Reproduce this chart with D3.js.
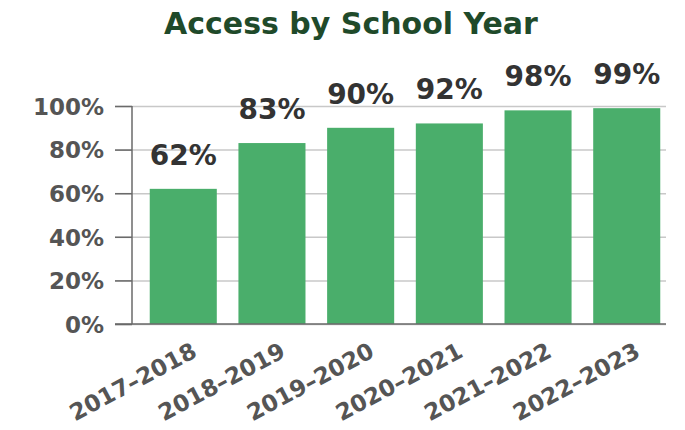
<!DOCTYPE html>
<html>
<head>
<meta charset="utf-8">
<script src="https://cdn.jsdelivr.net/npm/d3@7"></script>
<style>
  html, body { margin: 0; padding: 0; background: #fff; }
  svg text { font-family: "DejaVu Sans", sans-serif; font-weight: bold; }
</style>
</head>
<body>
<svg id="chart" width="685" height="430"></svg>
<script>
// School years and the share with access in each
const years = ["2017–2018", "2018–2019", "2019–2020", "2020–2021", "2021–2022", "2022–2023"];
const access = [62, 83, 90, 92, 98, 99];
const yTicks = [0, 20, 40, 60, 80, 100];
const title = "Access by School Year";

const svg = d3.select("#chart");

const x = d3.scaleBand()
  .domain(years)
  .range([132, 678])
  .paddingInner(0.244)
  .paddingOuter(0.2);

const y = d3.scaleLinear()
  .domain([0, 100])
  .range([324, 106]);

// Title
svg.append("text")
  .attr("x", 351)
  .attr("y", 34)
  .attr("text-anchor", "middle")
  .attr("fill", "#1f4a2a")
  .attr("font-size", 30)
  .text(title);

// Horizontal gridlines with short ticks out to the left
const grid = svg.append("g")
  .attr("transform", "translate(132,0)")
  .call(d3.axisLeft(y)
    .tickValues(yTicks)
    .tickSize(-534)
    .tickFormat(""));
grid.select(".domain").remove();
grid.selectAll(".tick line")
  .attr("stroke", "#c8c8c8")
  .attr("stroke-width", 1.5)
  .attr("x1", -17);

// Bars
svg.append("g")
  .selectAll("rect")
  .data(years)
  .join("rect")
  .attr("x", d => x(d))
  .attr("width", x.bandwidth())
  .attr("y", (d, i) => y(access[i]))
  .attr("height", (d, i) => y(0) - y(access[i]))
  .attr("fill", "#4aae6b");

// Value labels
svg.append("g")
  .selectAll("text")
  .data(years)
  .join("text")
  .attr("x", d => x(d) + x.bandwidth() / 2)
  .attr("y", (d, i) => y(access[i]) - 24)
  .attr("text-anchor", "middle")
  .attr("fill", "#333333")
  .attr("font-size", 28)
  .text((d, i) => access[i] + "%");

// Y axis
const yAxis = svg.append("g")
  .attr("transform", "translate(132,0)")
  .call(d3.axisLeft(y)
    .tickValues(yTicks)
    .tickSize(17)
    .tickPadding(11)
    .tickFormat(d => d + "%"));
yAxis.select(".domain")
  .attr("stroke", "#6a6a6a")
  .attr("stroke-width", 1.5)
  .attr("d", `M0,${y(100)}V${y(0)}`);
yAxis.selectAll(".tick line")
  .attr("stroke", "#6a6a6a")
  .attr("stroke-width", 1.5);
yAxis.selectAll(".tick text")
  .attr("fill", "#555555")
  .attr("font-size", 23)
  .attr("font-family", "DejaVu Sans, sans-serif")
  .attr("dy", "0.36em");

// Baseline
svg.append("line")
  .attr("x1", 115).attr("x2", 666)
  .attr("y1", y(0)).attr("y2", y(0))
  .attr("stroke", "#6a6a6a")
  .attr("stroke-width", 1.5);

// X axis labels, rotated
const xAxis = svg.append("g")
  .attr("transform", `translate(0,${y(0)})`)
  .call(d3.axisBottom(x).tickSize(0).tickPadding(0));
xAxis.select(".domain").remove();
xAxis.selectAll(".tick text")
  .attr("fill", "#555555")
  .attr("font-size", 23)
  .attr("font-family", "DejaVu Sans, sans-serif")
  .attr("text-anchor", "end")
  .attr("dy", 0)
  .attr("transform", "translate(15,32) rotate(-28)");
</script>
</body>
</html>
